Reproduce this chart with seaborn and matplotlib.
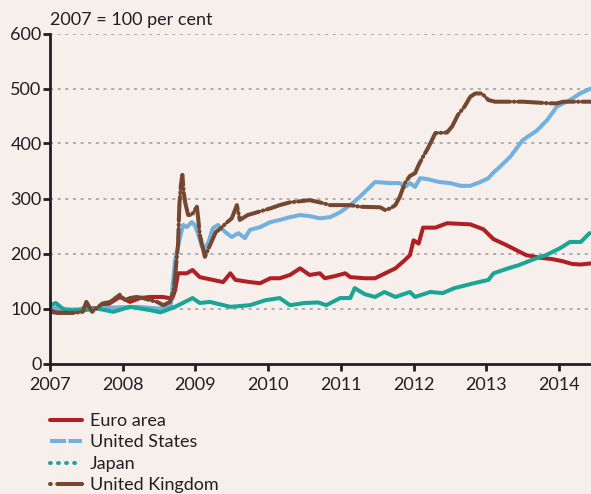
import matplotlib
matplotlib.use("Agg")
import matplotlib.pyplot as plt
from matplotlib.lines import Line2D
import pandas as pd
import seaborn as sns

# --- Data (decimal year, index 2007 = 100) ---

euro_years = [2007.00, 2007.04, 2007.30, 2007.45, 2007.65, 2007.78, 2007.96, 2008.10, 2008.24,
              2008.38, 2008.55, 2008.68, 2008.72, 2008.76, 2008.88, 2008.96, 2009.06, 2009.24,
              2009.38, 2009.48, 2009.55, 2009.75, 2009.89, 2010.03, 2010.16, 2010.30, 2010.44,
              2010.57, 2010.71, 2010.78, 2010.92, 2011.06, 2011.13, 2011.33, 2011.47, 2011.61,
              2011.75, 2011.88, 2011.95, 2012.00, 2012.07, 2012.13, 2012.30, 2012.46, 2012.78,
              2012.96, 2013.10, 2013.25, 2013.40, 2013.55, 2013.75, 2013.90, 2014.05, 2014.18,
              2014.30, 2014.44]
euro_values = [100, 93, 93, 100, 101, 106, 121, 112, 119,
               121, 121, 118, 133, 164, 164, 170, 157, 152,
               148, 164, 152, 148, 146, 155, 155, 161, 173,
               161, 164, 155, 159, 164, 157, 155, 155, 164,
               173, 188, 197, 224, 218, 247, 247, 255, 253,
               244, 226, 217, 207, 197, 192, 190, 186, 181,
               180, 182]

us_years = [2007.00, 2007.30, 2007.60, 2007.90, 2008.20, 2008.50, 2008.66, 2008.72, 2008.79,
            2008.83, 2008.88, 2008.95, 2008.99, 2009.04, 2009.09, 2009.13, 2009.18, 2009.24,
            2009.31, 2009.41, 2009.50, 2009.59, 2009.68, 2009.75, 2009.89, 2010.03, 2010.16,
            2010.30, 2010.44, 2010.57, 2010.71, 2010.85, 2010.99, 2011.13, 2011.26, 2011.40,
            2011.47, 2011.68, 2011.81, 2011.88, 2011.95, 2012.02, 2012.09, 2012.20, 2012.35,
            2012.50, 2012.65, 2012.78, 2012.92, 2013.03, 2013.09, 2013.19, 2013.33, 2013.50,
            2013.70, 2013.84, 2013.97, 2014.15, 2014.29, 2014.44]
us_values = [102, 98, 100, 102, 103, 100, 104, 188, 230,
             252, 248, 257, 252, 234, 212, 210, 221, 246,
             252, 239, 230, 237, 228, 243, 248, 257, 261,
             266, 270, 268, 264, 266, 275, 288, 303, 321,
             330, 328, 328, 321, 328, 321, 337, 335, 330,
             328, 323, 323, 330, 337, 346, 358, 376, 406,
             424, 443, 467, 479, 491, 500]

japan_years = [2007.00, 2007.08, 2007.20, 2007.48, 2007.65, 2007.87, 2008.10, 2008.38, 2008.52,
               2008.72, 2008.96, 2009.06, 2009.20, 2009.48, 2009.75, 2009.96, 2010.16, 2010.30,
               2010.50, 2010.69, 2010.80, 2010.99, 2011.13, 2011.19, 2011.33, 2011.47, 2011.60,
               2011.75, 2011.95, 2012.02, 2012.23, 2012.40, 2012.56, 2012.83, 2013.03, 2013.10,
               2013.30, 2013.45, 2013.66, 2013.82, 2014.02, 2014.15, 2014.30, 2014.42]
japan_values = [106, 110, 97, 97, 100, 94, 103, 97, 93,
                103, 119, 110, 112, 103, 106, 115, 119, 106,
                110, 111, 106, 119, 119, 137, 126, 121, 130,
                121, 130, 121, 130, 128, 137, 146, 152, 164,
                173, 179, 190, 197, 210, 221, 221, 237]

uk_years = [2007.00, 2007.10, 2007.33, 2007.45, 2007.50, 2007.58, 2007.72, 2007.83, 2007.96,
            2008.03, 2008.10, 2008.19, 2008.28, 2008.38, 2008.47, 2008.56, 2008.65, 2008.70,
            2008.72, 2008.74, 2008.76, 2008.78, 2008.80, 2008.82, 2008.84, 2008.86, 2008.90,
            2008.95, 2009.02, 2009.04, 2009.06, 2009.13, 2009.17, 2009.22, 2009.28, 2009.35,
            2009.42, 2009.50, 2009.57, 2009.61, 2009.72, 2009.85, 2010.03, 2010.16, 2010.30,
            2010.44, 2010.57, 2010.71, 2010.85, 2011.13, 2011.26, 2011.54, 2011.61, 2011.68,
            2011.75, 2011.81, 2011.88, 2011.95, 2012.02, 2012.07, 2012.13, 2012.20, 2012.30,
            2012.46, 2012.53, 2012.61, 2012.70, 2012.78, 2012.85, 2012.94, 2013.03, 2013.12,
            2013.50, 2013.88, 2013.97, 2014.06, 2014.44]
uk_values = [97, 92, 92, 94, 112, 94, 109, 112, 125,
             115, 119, 121, 119, 115, 112, 106, 112, 133,
             157, 188, 215, 290, 324, 343, 310, 292, 270,
             270, 285, 261, 234, 194, 206, 221, 239, 246,
             255, 264, 288, 261, 270, 275, 282, 288, 293,
             295, 297, 293, 288, 288, 285, 284, 279, 282,
             288, 303, 328, 341, 346, 361, 376, 392, 419,
             420, 431, 452, 467, 485, 491, 491, 479, 476,
             476, 473, 473, 476, 476]

series_names = ["Euro area", "United States", "Japan", "United Kingdom"]
series_colors = ["#b01f24", "#72b0dd", "#1aa595", "#744830"]

BG = "#f6efec"
INK = "#231f20"
LW = 2.9

sns.set_style("ticks", {"axes.facecolor": BG, "figure.facecolor": BG})
plt.rcParams["font.family"] = ["Lato", "DejaVu Sans"]

fig = plt.figure(figsize=(5.91, 4.94), dpi=100)
ax = fig.add_axes([50 / 591, 1 - 363.5 / 494, 1 - 50 / 591, 330 / 494])
ax.set_facecolor(BG)

frames = [
    pd.DataFrame({"year": euro_years, "value": euro_values, "series": "Euro area"}),
    pd.DataFrame({"year": us_years, "value": us_values, "series": "United States"}),
    pd.DataFrame({"year": japan_years, "value": japan_values, "series": "Japan"}),
    pd.DataFrame({"year": uk_years, "value": uk_values, "series": "United Kingdom"}),
]

# dotted gridlines behind the series
for v in range(100, 601, 100):
    ax.axhline(v, color="#9c9c9c", lw=1.1, ls=(0, (2, 3)), zorder=0)

for df, color in zip(frames, series_colors):
    name = df["series"].iloc[0]
    sns.lineplot(data=df, x="year", y="value", ax=ax, color=color, lw=LW, legend=False)
    ln = ax.lines[-1]
    ln.set_solid_capstyle("round")
    ln.set_solid_joinstyle("round")
    if name == "United Kingdom":
        # dash-dot look of the original, mostly visible on the steep parts
        ln.set_dashes((6, 0.9, 0.2, 0.9))
        ln.set_dash_capstyle("round")

ax.set_xlim(2007, 2014.44)
ax.set_ylim(0, 600)
ax.set_xticks(range(2007, 2015))
ax.set_yticks(range(0, 601, 100))
ax.set_xlabel("")
ax.set_ylabel("")

for side in ["top", "right"]:
    ax.spines[side].set_visible(False)
for side in ["left", "bottom"]:
    ax.spines[side].set_color(INK)
    ax.spines[side].set_linewidth(2)
ax.tick_params(axis="both", direction="out", length=5, width=2, color=INK,
               labelsize=13, labelcolor=INK)
ax.tick_params(axis="x", pad=5)
ax.tick_params(axis="y", pad=1)

fig.text(50 / 591, 1 - 20 / 494, "2007 = 100 per cent", fontsize=13, color=INK,
         ha="left", va="center")

# legend with the line styles of the original
handles = [
    Line2D([], [], color=series_colors[0], lw=LW),
    Line2D([], [], color=series_colors[1], lw=LW, dashes=(4, 0.6)),
    Line2D([], [], color=series_colors[2], lw=LW, dashes=(0.2, 1.8), dash_capstyle="round"),
    Line2D([], [], color=series_colors[3], lw=LW, dashes=(0.2, 1.6, 6, 0.1), dash_capstyle="round"),
]
fig.legend(handles, series_names, loc="upper left", bbox_to_anchor=(50 / 591, 1 - 413 / 494),
           frameon=False, fontsize=13, handlelength=1.75, handletextpad=0.45,
           labelspacing=0.3, borderpad=0, borderaxespad=0, labelcolor=INK)

fig.savefig("out.png", dpi=100, facecolor=BG)
